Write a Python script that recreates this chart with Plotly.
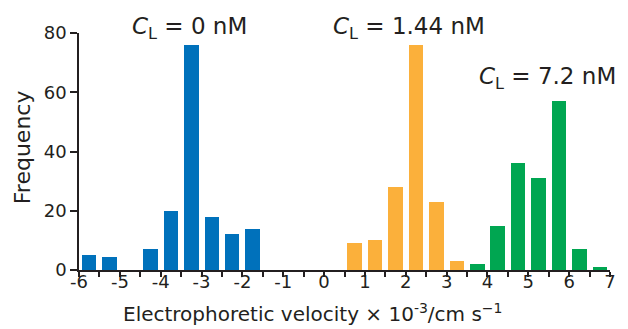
import plotly.graph_objects as go

# Bin centres (electrophoretic velocity, x10^-3 cm/s) and frequencies
blue_x = [-5.75, -5.25, -4.75, -4.25, -3.75, -3.25, -2.75, -2.25, -1.75]
blue_freq = [5.2, 4.5, 0, 7, 20, 76, 18, 12, 14]

orange_x = [0.75, 1.25, 1.75, 2.25, 2.75, 3.25]
orange_freq = [9, 10, 28, 76, 23, 3]

green_x = [3.75, 4.25, 4.75, 5.25, 5.75, 6.25, 6.75]
green_freq = [2, 15, 36, 31, 57, 7, 1]

x_tickvals = [v / 2 for v in range(-12, 15)]
x_ticktext = [str(int(v)) if v == int(v) else "" for v in x_tickvals]
y_tickvals = [0, 20, 40, 60, 80]

labels = ["<i>C</i><sub>L</sub> = 0 nM", "<i>C</i><sub>L</sub> = 1.44 nM", "<i>C</i><sub>L</sub> = 7.2 nM"]
label_pos = [(-3.29, 1.02), (2.08, 1.02), (5.47, 0.81)]

colors = ["#0071BB", "#FBB03B", "#00A651"]
font = "DejaVu Sans, Arial, sans-serif"
ink = "#231f20"

fig = go.Figure()
for xs, ys, c in [(blue_x, blue_freq, colors[0]), (orange_x, orange_freq, colors[1]), (green_x, green_freq, colors[2])]:
    fig.add_trace(go.Bar(x=xs, y=ys, width=0.355, marker=dict(color=c, line=dict(width=0)), showlegend=False))

for txt, (ax, ay) in zip(labels, label_pos):
    fig.add_annotation(x=ax, y=ay, xref="x", yref="paper", text=txt, showarrow=False,
                       font=dict(family=font, size=23, color=ink), xanchor="center", yanchor="middle")

fig.add_annotation(x=0.44, y=-0.181, xref="paper", yref="paper",
                   text="Electrophoretic velocity × 10<sup>-3</sup>/cm s<sup>−1</sup>",
                   showarrow=False, font=dict(family=font, size=20, color=ink),
                   xanchor="center", yanchor="middle")

fig.add_annotation(x=-0.106, y=0.517, xref="paper", yref="paper", text="Frequency",
                   textangle=-90, showarrow=False, font=dict(family=font, size=22, color=ink),
                   xanchor="center", yanchor="middle")

fig.update_layout(
    width=620, height=321,
    margin=dict(l=71, r=13, t=25, b=59),
    paper_bgcolor="white", plot_bgcolor="white",
    bargap=0,
    xaxis=dict(range=[-6, 7], tickvals=x_tickvals, ticktext=x_ticktext, ticks="outside",
               ticklen=5, tickwidth=1.5, tickcolor=ink, showline=True, linecolor=ink,
               linewidth=1.5, showgrid=False, zeroline=False, ticklabelstandoff=-10,
               tickfont=dict(family=font, size=18, color=ink)),
    yaxis=dict(range=[0, 80], tickvals=y_tickvals, ticks="outside", ticklen=7, tickwidth=1.5,
               tickcolor=ink, showline=True, linecolor=ink, linewidth=1.5,
               showgrid=False, zeroline=False,
               tickfont=dict(family=font, size=18, color=ink)),
)

fig.write_html("out.html")
